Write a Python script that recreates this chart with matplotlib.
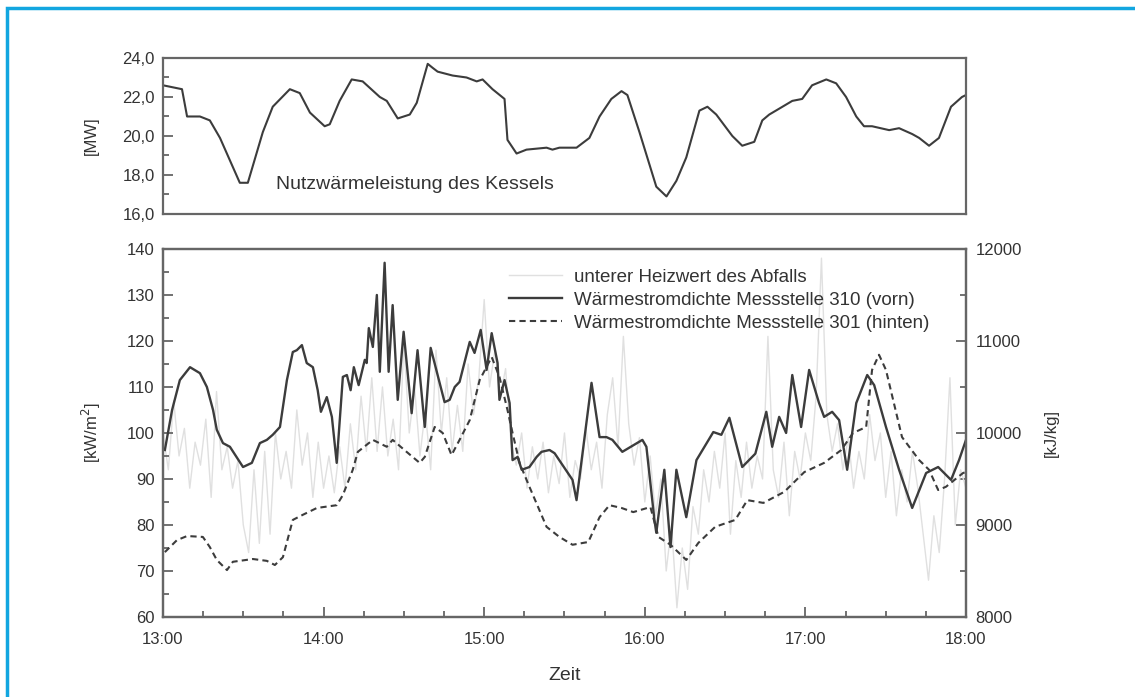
from matplotlib import pyplot as plt
from matplotlib.patches import Rectangle
from matplotlib.ticker import MultipleLocator
import numpy as np

plt.rcParams['font.family'] = ['Liberation Sans', 'DejaVu Sans']

# Nutzwaermeleistung (minutes after 13:00, MW)
top_min = [0, 7.1, 9.0, 13.8, 17.5, 21.3, 28.7, 31.7, 37.3, 41.0, 47.4, 51.1, 54.9, 60.4, 62.3, 66.0,
           70.5, 74.6, 81.0, 83.6, 87.7, 92.2, 94.8, 98.9, 100.7, 102.6, 108.2, 113.4, 117.2, 119.4,
           123.1, 127.6, 128.7, 132.1, 135.8, 143.3, 145.5, 148.1, 154.5, 159.3, 163.1, 167.5, 171.3,
           173.5, 178.0, 184.3, 188.1, 191.8, 195.5, 200.4, 203.4, 206.7, 212.7, 216.4, 220.9, 223.9,
           226.5, 230.2, 235.1, 238.8, 242.5, 247.8, 251.5, 255.2, 259.0, 261.9, 264.9, 271.3, 275.0,
           279.9, 282.5, 286.2, 289.9, 294.4, 298.5, 300]
top_mw = [22.6, 22.4, 21.0, 21.0, 20.8, 19.9, 17.6, 17.6, 20.2, 21.5, 22.4, 22.2, 21.2, 20.5, 20.6, 21.8,
          22.9, 22.8, 22.0, 21.8, 20.9, 21.1, 21.7, 23.7, 23.5, 23.3, 23.1, 23.0, 22.8, 22.9,
          22.4, 21.9, 19.8, 19.1, 19.3, 19.4, 19.3, 19.4, 19.4, 19.9, 21.0, 21.9, 22.3,
          22.1, 20.2, 17.4, 16.9, 17.7, 18.9, 21.3, 21.5, 21.1, 20.0, 19.5, 19.7, 20.8,
          21.1, 21.4, 21.8, 21.9, 22.6, 22.9, 22.7, 22.0, 21.0, 20.5, 20.5, 20.3, 20.4,
          20.1, 19.9, 19.5, 19.9, 21.5, 22.0, 22.1]

# Waermestromdichte Messstelle 310 (vorn), kW/m2
vorn_min = [0.7, 3.4, 6.3, 10.1, 13.8, 16.4, 18.7, 20.1, 22.4, 25.0, 29.9, 33.2, 36.2, 38.8, 41.0, 43.7,
            46.3, 48.5, 50.0, 51.9, 53.7, 56.0, 57.8, 59.0, 61.2, 63.1, 64.9, 67.2, 68.7, 70.1, 71.3,
            73.1, 75.4, 76.1, 76.9, 78.4, 79.9, 81.0, 82.8, 84.3, 85.8, 87.7, 89.9, 92.9, 95.1, 97.8,
            100.0, 105.2, 107.1, 109.0, 110.8, 114.6, 116.4, 118.7, 120.9, 122.8, 125.0, 125.7, 127.6,
            129.5, 130.6, 132.5, 134.0, 136.9, 139.6, 141.4, 144.4, 146.3, 153.0, 154.5, 160.1, 163.1,
            165.7, 167.9, 171.6, 179.1, 180.6, 183.6, 184.3, 187.3, 189.6, 191.8, 195.5, 199.3, 205.6,
            208.6, 211.6, 216.4, 221.3, 225.4, 227.6, 230.2, 232.8, 235.1, 238.4, 241.4, 245.1, 247.0,
            250.0, 252.6, 255.6, 259.0, 263.1, 265.7, 270.1, 275.0, 279.9, 285.1, 289.6, 294.4, 297.4,
            300]
vorn_kw = [96.3, 105.0, 111.5, 114.3, 113.0, 110.0, 105.0, 100.7, 97.8, 97.0, 92.6, 93.5, 97.8, 98.5, 99.6,
           101.3, 111.5, 117.6, 118.0, 119.1, 115.2, 114.3, 109.3, 104.6, 107.8, 103.5, 93.5, 112.2, 112.6,
           109.3, 114.3, 110.4, 115.9, 115.2, 122.8, 118.7, 130.0, 113.3, 137.0, 113.3, 127.8, 107.2, 122.0,
           104.3, 118.0, 101.3, 118.5, 106.7, 107.2, 110.0, 111.1, 119.8, 117.4, 122.4, 113.7, 121.7, 115.2,
           107.2, 111.5, 106.5, 94.1, 94.8, 92.0, 92.6, 94.8, 95.9, 96.3, 95.6, 89.8, 85.4, 110.9, 99.1,
           99.1, 98.5, 95.9, 98.5, 97.0, 81.1, 78.3, 92.0, 75.2, 92.0, 81.7, 94.1, 100.2,
           99.6, 103.3, 92.6, 95.5, 104.6, 97.0, 103.5, 100.0, 112.6, 101.3, 113.7, 106.5, 103.5,
           104.6, 102.8, 92.0, 106.5, 112.6, 110.4, 101.3, 92.0, 83.7, 91.3, 92.6, 89.8, 94.1,
           98.5]

# Waermestromdichte Messstelle 301 (hinten), kW/m2
hinten_min = [0.7, 5.2, 9.0, 14.9, 17.5, 20.1, 23.9, 26.1, 33.6, 38.8, 41.8, 44.8, 48.5, 52.2, 57.5, 64.9,
              67.2, 70.9, 72.8, 78.4, 83.6, 85.8, 91.0, 95.9, 97.8, 101.5, 104.5, 107.8, 110.8, 114.6,
              118.3, 122.8, 125.7, 128.7, 130.6, 133.2, 136.9, 143.3, 148.1, 153.0, 158.9, 163.1, 166.8,
              171.3, 175.7, 182.1, 185.1, 189.6, 195.5, 200.0, 206.3, 213.8, 218.3, 224.3, 232.1, 239.6,
              247.0, 253.4, 257.8, 262.7, 264.9, 267.5, 270.1, 276.1, 282.5, 286.2, 289.6, 292.5, 298.9,
              300]
hinten_kw = [74.1, 76.7, 77.6, 77.4, 75.2, 72.4, 70.2, 72.0, 72.6, 72.2, 71.3, 73.0, 81.1, 82.2, 83.7, 84.3,
             86.5, 92.0, 95.9, 98.5, 97.0, 98.5, 95.9, 93.5, 94.8, 101.3, 100.0, 95.2, 98.5, 102.8,
             111.5, 116.5, 112.2, 105.0, 100.0, 93.5, 88.3, 79.6, 77.4, 75.7, 76.3, 81.7, 84.3,
             83.7, 82.8, 83.9, 77.4, 75.7, 72.4, 76.1, 79.6, 81.1, 85.4, 84.8, 87.2, 91.5,
             93.5, 96.3, 100.0, 101.3, 113.7, 117.0, 113.7, 99.1, 94.1, 92.0, 87.6, 88.3, 91.3,
             91.5]

# unterer Heizwert des Abfalls, kJ/kg (every 2 minutes)
heiz_min = list(range(0, 302, 2))
heiz_kj = [10000, 9600, 10350, 9750, 10050, 9400, 9900, 9650, 10150, 9300,
           10450, 9600, 9850, 9400, 9700, 9000, 8700, 9600, 8800, 9800,
           8900, 10000, 9500, 9800, 9400, 10250, 9650, 10000, 9300, 9900,
           9400, 9750, 9350, 9850, 9400, 10100, 9600, 10400, 9800, 10600,
           9800, 10500, 9750, 10150, 9600, 11000, 10000, 10500, 9750, 10250,
           9600, 10900, 10000, 10600, 9800, 10300, 9800, 10750, 10200, 10600,
           11450, 10500, 10900, 10400, 10700, 9900, 9650, 10000, 9400, 9850,
           9500, 9900, 9350, 9750, 9450, 10000, 9300, 9700, 9500, 10050,
           9600, 9900, 9400, 10200, 10600, 9850, 11050, 10100, 9650, 9950,
           9250, 9750, 9100, 9500, 8500, 9000, 8100, 8750, 8300, 9200,
           8900, 9600, 9250, 9800, 9400, 10000, 8900, 9700, 9300, 9900,
           9400, 9750, 9500, 11050, 9600, 9300, 9900, 9100, 9800, 9500,
           10000, 9700, 10400, 11900, 10200, 9800, 10100, 9600, 9950, 9400,
           9800, 9500, 10200, 9700, 10000, 9300, 9800, 9100, 9600, 9250,
           9800, 9400, 8900, 8400, 9100, 8700, 9500, 10600, 9000, 9600,
           9400]

hour_ticks = [13, 14, 15, 16, 17, 18]
hour_labels = ['13:00', '14:00', '15:00', '16:00', '17:00', '18:00']
mw_ticks = [16, 18, 20, 22, 24]
mw_labels = ['16,0', '18,0', '20,0', '22,0', '24,0']

def to_hours(m):
    return 13 + np.array(m) / 60.0

line_col = '#3c3c3c'
spine_col = '#666666'
text_col = '#333333'

fig = plt.figure(figsize=(11.35, 6.97), dpi=100)
fig.patches.append(Rectangle((7 / 1135, -0.05), 1.2, 1 - 8 / 697 + 0.05, transform=fig.transFigure,
                             fill=False, edgecolor='#12a6e0', linewidth=2.5))

ax1 = fig.add_axes([0.1436, 0.6930, 0.7075, 0.2238])
ax2 = fig.add_axes([0.1436, 0.1148, 0.7075, 0.5280])
ax3 = ax2.twinx()

def style_spines(ax):
    for s in ax.spines.values():
        s.set_color(spine_col)
        s.set_linewidth(1.6)

# top panel
ax1.plot(to_hours(top_min), top_mw, color=line_col, lw=1.5)
ax1.set_xlim(13, 18)
ax1.set_ylim(16, 24)
ax1.set_xticks([])
ax1.set_yticks(mw_ticks, mw_labels)
ax1.yaxis.set_minor_locator(MultipleLocator(1))
ax1.tick_params(axis='y', which='both', direction='in', color=spine_col, width=1.3, labelsize=12,
                labelcolor=text_col, pad=6)
ax1.tick_params(axis='y', which='major', length=7)
ax1.tick_params(axis='y', which='minor', length=4)
ax1.set_ylabel('[MW]', fontsize=12, color=text_col, labelpad=17)
ax1.text(0.141, 0.19, 'Nutzwärmeleistung des Kessels', transform=ax1.transAxes, fontsize=14,
         color=text_col, va='center')
style_spines(ax1)

# bottom panel
ax3.plot(to_hours(heiz_min), heiz_kj, color='#e0e0e0', lw=1.0, label='unterer Heizwert des Abfalls')
ax2.plot(to_hours(vorn_min), vorn_kw, color=line_col, lw=1.7, label='Wärmestromdichte Messstelle 310 (vorn)')
ax2.plot(to_hours(hinten_min), hinten_kw, color=line_col, lw=1.5, ls=(0, (3, 2)),
         label='Wärmestromdichte Messstelle 301 (hinten)')
ax2.set_zorder(ax3.get_zorder() + 1)
ax2.patch.set_visible(False)

ax2.set_xlim(13, 18)
ax2.set_ylim(60, 140)
ax3.set_ylim(8000, 12000)
ax2.set_xticks(hour_ticks, hour_labels)
ax2.xaxis.set_minor_locator(MultipleLocator(0.25))
ax2.yaxis.set_major_locator(MultipleLocator(10))
ax2.yaxis.set_minor_locator(MultipleLocator(5))
ax3.yaxis.set_major_locator(MultipleLocator(1000))
ax3.yaxis.set_minor_locator(MultipleLocator(500))
for ax in (ax2, ax3):
    ax.tick_params(which='both', direction='in', color=spine_col, width=1.3, labelsize=12,
                   labelcolor=text_col)
    ax.tick_params(which='major', length=7)
    ax.tick_params(which='minor', length=4)
    style_spines(ax)
ax2.tick_params(axis='x', pad=11)
ax2.tick_params(axis='y', pad=6)
ax3.tick_params(axis='y', pad=7)
ax2.set_xlabel('Zeit', fontsize=14, color=text_col, labelpad=14)
ax2.set_ylabel('[kW/m$^2$]', fontsize=12, color=text_col, labelpad=17)
ax3.set_ylabel('[kJ/kg]', fontsize=12, color=text_col, labelpad=16)

h3, l3 = ax3.get_legend_handles_labels()
h2, l2 = ax2.get_legend_handles_labels()
leg = ax2.legend(h3 + h2, l3 + l2, loc='upper left', bbox_to_anchor=(0.41, 0.992), frameon=False,
                 fontsize=13.5, handlelength=2.8, handletextpad=0.64, labelspacing=0.31)
for t in leg.get_texts():
    t.set_color(text_col)

plt.savefig('out.png', dpi=100)
